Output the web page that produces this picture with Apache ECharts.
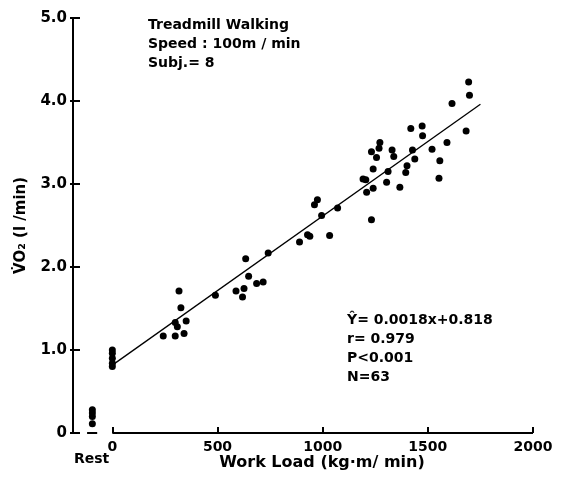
<!DOCTYPE html>
<html>
<head>
<meta charset="utf-8">
<script src="https://cdn.jsdelivr.net/npm/echarts@6/dist/echarts.min.js"></script>
<style>
  html, body { margin: 0; padding: 0; background: #fff; }
  #chart { width: 562px; height: 483px; }
</style>
</head>
<body>
<div id="chart"></div>
<script>
// VO2 vs work load, treadmill walking
const workLoad = [
  0, 0, 0, 0, 0,
  242, 299, 341, 309, 299, 351, 326, 317,
  490,
  588, 619, 626, 634, 648, 686, 717, 741,
  890, 928, 939, 961, 975, 995, 1033, 1071,
  1694, 1698, 1615, 1419, 1473, 1475, 1682, 1272, 1232, 1268,
  1256, 1330, 1338, 1427, 1520, 1591, 1438, 1240, 1557, 1401,
  1395, 1311, 1192, 1205, 1304, 1367, 1240, 1209, 1553, 1232
];
const vo2 = [
  1.00, 0.96, 0.90, 0.84, 0.80,
  1.17, 1.17, 1.20, 1.28, 1.33, 1.35, 1.51, 1.71,
  1.66,
  1.71, 1.64, 1.74, 2.10, 1.89, 1.80, 1.82, 2.17,
  2.30, 2.39, 2.37, 2.75, 2.81, 2.62, 2.38, 2.71,
  4.23, 4.07, 3.97, 3.67, 3.70, 3.58, 3.64, 3.50, 3.39, 3.43,
  3.32, 3.41, 3.33, 3.41, 3.42, 3.50, 3.30, 3.18, 3.28, 3.22,
  3.14, 3.15, 3.06, 3.05, 3.02, 2.96, 2.95, 2.90, 3.07, 2.57
];

// resting values sit left of the broken x axis
const restX = -95;
const restVo2 = [0.28, 0.24, 0.20, 0.11];

// regression line Y = 0.0018x + 0.818, as drawn
const fitX = [0, 1750];
const fitY = [0.818, 3.96];

const xTicks = [0, 500, 1000, 1500, 2000];

const FONT = "DejaVu Sans";

const chart = echarts.init(document.getElementById("chart"));

function pairs(xs, ys) {
  return xs.map((x, i) => [x, ys[i]]);
}

function textLine(text, left, top, size) {
  return {
    type: "text",
    left: left,
    top: top,
    style: { text: text, fill: "#000", font: "bold " + size + "px '" + FONT + "'" },
  };
}

chart.setOption({
  animation: false,
  grid: { left: 73, right: 29, top: 18, bottom: 50, outerBoundsMode: "none" },
  xAxis: {
    type: "value",
    min: -187,
    max: 2000,
    name: "Work Load (kg·m/ min)",
    nameLocation: "middle",
    nameGap: 22,
    nameMoveOverlap: false,
    nameTextStyle: { color: "#000", fontFamily: FONT, fontWeight: "bold", fontSize: 16, padding: [0, 0, 0, 38] },
    axisLine: { show: false },
    splitLine: { show: false },
    axisTick: {
      show: true,
      inside: true,
      length: 6,
      customValues: xTicks,
      lineStyle: { color: "#000", width: 2 },
    },
    axisLabel: {
      customValues: xTicks,
      hideOverlap: false,
      color: "#000",
      fontFamily: FONT,
      fontWeight: "bold",
      fontSize: 14,
      margin: 7,
      formatter: (v) => String(v),
    },
  },
  yAxis: [
    {
      type: "value",
      min: 0,
      max: 5,
      interval: 1,
      name: "V̇O₂ (l /min)",
      nameLocation: "middle",
      nameGap: 44,
      nameMoveOverlap: false,
      nameTextStyle: { color: "#000", fontFamily: FONT, fontWeight: "bold", fontSize: 15 },
      axisLine: { show: true, onZero: false, lineStyle: { color: "#000", width: 2 } },
      axisTick: { show: true, inside: true, length: 7, lineStyle: { color: "#000", width: 2 } },
      splitLine: { show: false },
      axisLabel: {
        color: "#000",
        fontFamily: FONT,
        fontWeight: "bold",
        fontSize: 15,
        margin: 6,
        formatter: (v) => (v === 0 ? "0" : v.toFixed(1)),
      },
    },
    {
      // outer half of the crossing ticks
      type: "value",
      position: "left",
      offset: 0,
      min: 0,
      max: 5,
      interval: 1,
      axisLine: { show: false, onZero: false },
      axisTick: { show: true, inside: false, length: 3, lineStyle: { color: "#000", width: 2 } },
      axisLabel: { show: false },
      splitLine: { show: false },
    },
  ],
  series: [
    {
      type: "line",
      data: pairs(fitX, fitY),
      symbol: "none",
      clip: false,
      lineStyle: { color: "#000", width: 1.3 },
      markLine: {
        silent: true,
        symbol: "none",
        label: { show: false },
        lineStyle: { color: "#000", width: 2, type: "solid" },
        data: [
          [{ coord: [-187, 0] }, { coord: [-155, 0] }],
          [{ coord: [-120, 0] }, { coord: [-72, 0] }],
          [{ coord: [0, 0] }, { coord: [2000, 0] }],
        ],
      },
    },
    {
      type: "scatter",
      data: pairs(workLoad, vo2),
      symbolSize: 7,
      itemStyle: { color: "#000", opacity: 1 },
    },
    {
      type: "scatter",
      data: restVo2.map((v) => [restX, v]),
      symbolSize: 7,
      itemStyle: { color: "#000", opacity: 1 },
    },
  ],
  graphic: [
    textLine("Rest", 74, 452, 14),
    textLine("Treadmill Walking", 148, 18, 14),
    textLine("Speed : 100m / min", 148, 37, 14),
    textLine("Subj.= 8", 148, 56, 14),
    textLine("Ŷ= 0.0018x+0.818", 347, 313, 14),
    textLine("r= 0.979", 347, 332, 14),
    textLine("P<0.001", 347, 351, 14),
    textLine("N=63", 347, 370, 14),
  ],
});
</script>
</body>
</html>
